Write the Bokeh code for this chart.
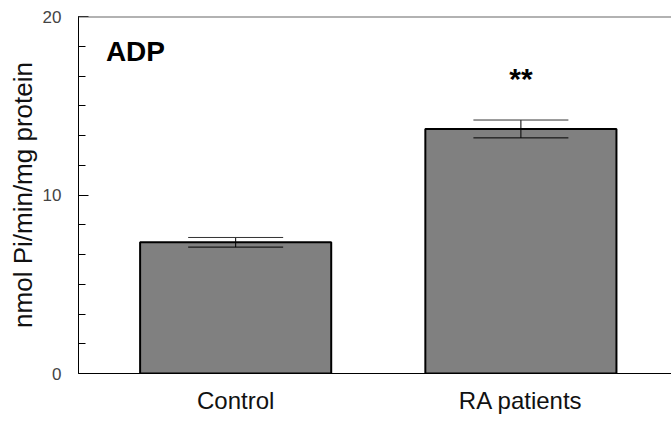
from bokeh.plotting import figure
from bokeh.models import (Range1d, SingleIntervalTicker, FixedTicker, Whisker, TeeHead,
                          ColumnDataSource, Span, Label)
from bokeh.embed import file_html
from bokeh.resources import INLINE

# ---- data ----
categories = ["Control", "RA patients"]
means = [7.35, 13.7]
errors = [0.27, 0.5]
panel_title = "ADP"
significance = ["", "**"]
y_label = "nmol Pi/min/mg protein"
y_ticks = [0, 10, 20]

FONT = "Liberation Sans"

xs = list(range(len(categories)))
src = ColumnDataSource(dict(
    x=xs, top=means,
    upper=[m + e for m, e in zip(means, errors)],
    lower=[m - e for m, e in zip(means, errors)],
))

p = figure(width=671, height=423, output_backend="svg", toolbar_location=None,
           x_range=Range1d(-0.551, 1.528), y_range=Range1d(0, 20),
           min_border_left=78, min_border_right=0, min_border_top=16, min_border_bottom=50)
p.outline_line_color = None
p.grid.visible = False
p.background_fill_color = "white"
p.border_fill_color = "white"

p.vbar(x="x", top="top", width=0.67, bottom=0, source=src,
       fill_color="#808080", line_color="black", line_width=2)

w = Whisker(base="x", upper="upper", lower="lower", source=src, level="overlay",
            line_color="black", line_width=1,
            upper_head=TeeHead(size=95, line_color="#333333", line_width=1),
            lower_head=TeeHead(size=95, line_color="black", line_width=1))
p.add_layout(w)

# top border line
p.add_layout(Span(location=y_ticks[-1], dimension="width", line_color="#666666", line_width=2))

# y axis
ya = p.yaxis[0]
ya.ticker = SingleIntervalTicker(interval=10, num_minor_ticks=6)
ya.major_tick_in = 10
ya.major_tick_out = 0
ya.minor_tick_in = 7
ya.minor_tick_out = 0
ya.axis_line_color = "black"
ya.major_tick_line_color = "black"
ya.minor_tick_line_color = "black"
ya.major_label_text_font = FONT
ya.major_label_text_font_size = "17px"
ya.major_label_text_color = "#444444"
ya.major_label_standoff = 17
ya.axis_label = y_label
ya.axis_label_text_font = FONT
ya.axis_label_text_font_style = "normal"
ya.axis_label_text_font_size = "26px"
ya.axis_label_text_color = "#111111"
ya.axis_label_standoff = 2

# x axis
xa = p.xaxis[0]
xa.ticker = FixedTicker(ticks=xs)
xa.major_label_overrides = {i: c for i, c in zip(xs, categories)}
xa.major_tick_line_color = None
xa.minor_tick_line_color = None
xa.axis_line_color = "black"
xa.major_label_text_font = FONT
xa.major_label_text_font_size = "24px"
xa.major_label_text_color = "#111111"
xa.major_label_standoff = 7

p.add_layout(Label(x=-0.455, y=17.15, text=panel_title, text_font=FONT,
                   text_font_size="28px", text_font_style="bold", text_color="black"))

for i, s in enumerate(significance):
    if s:
        p.add_layout(Label(x=xs[i], y=means[i] + errors[i] + 1.4, text=s, text_font=FONT,
                           text_font_size="30px", text_font_style="bold",
                           text_align="center", text_color="black"))

open("out.html", "w").write(file_html(p, INLINE))
